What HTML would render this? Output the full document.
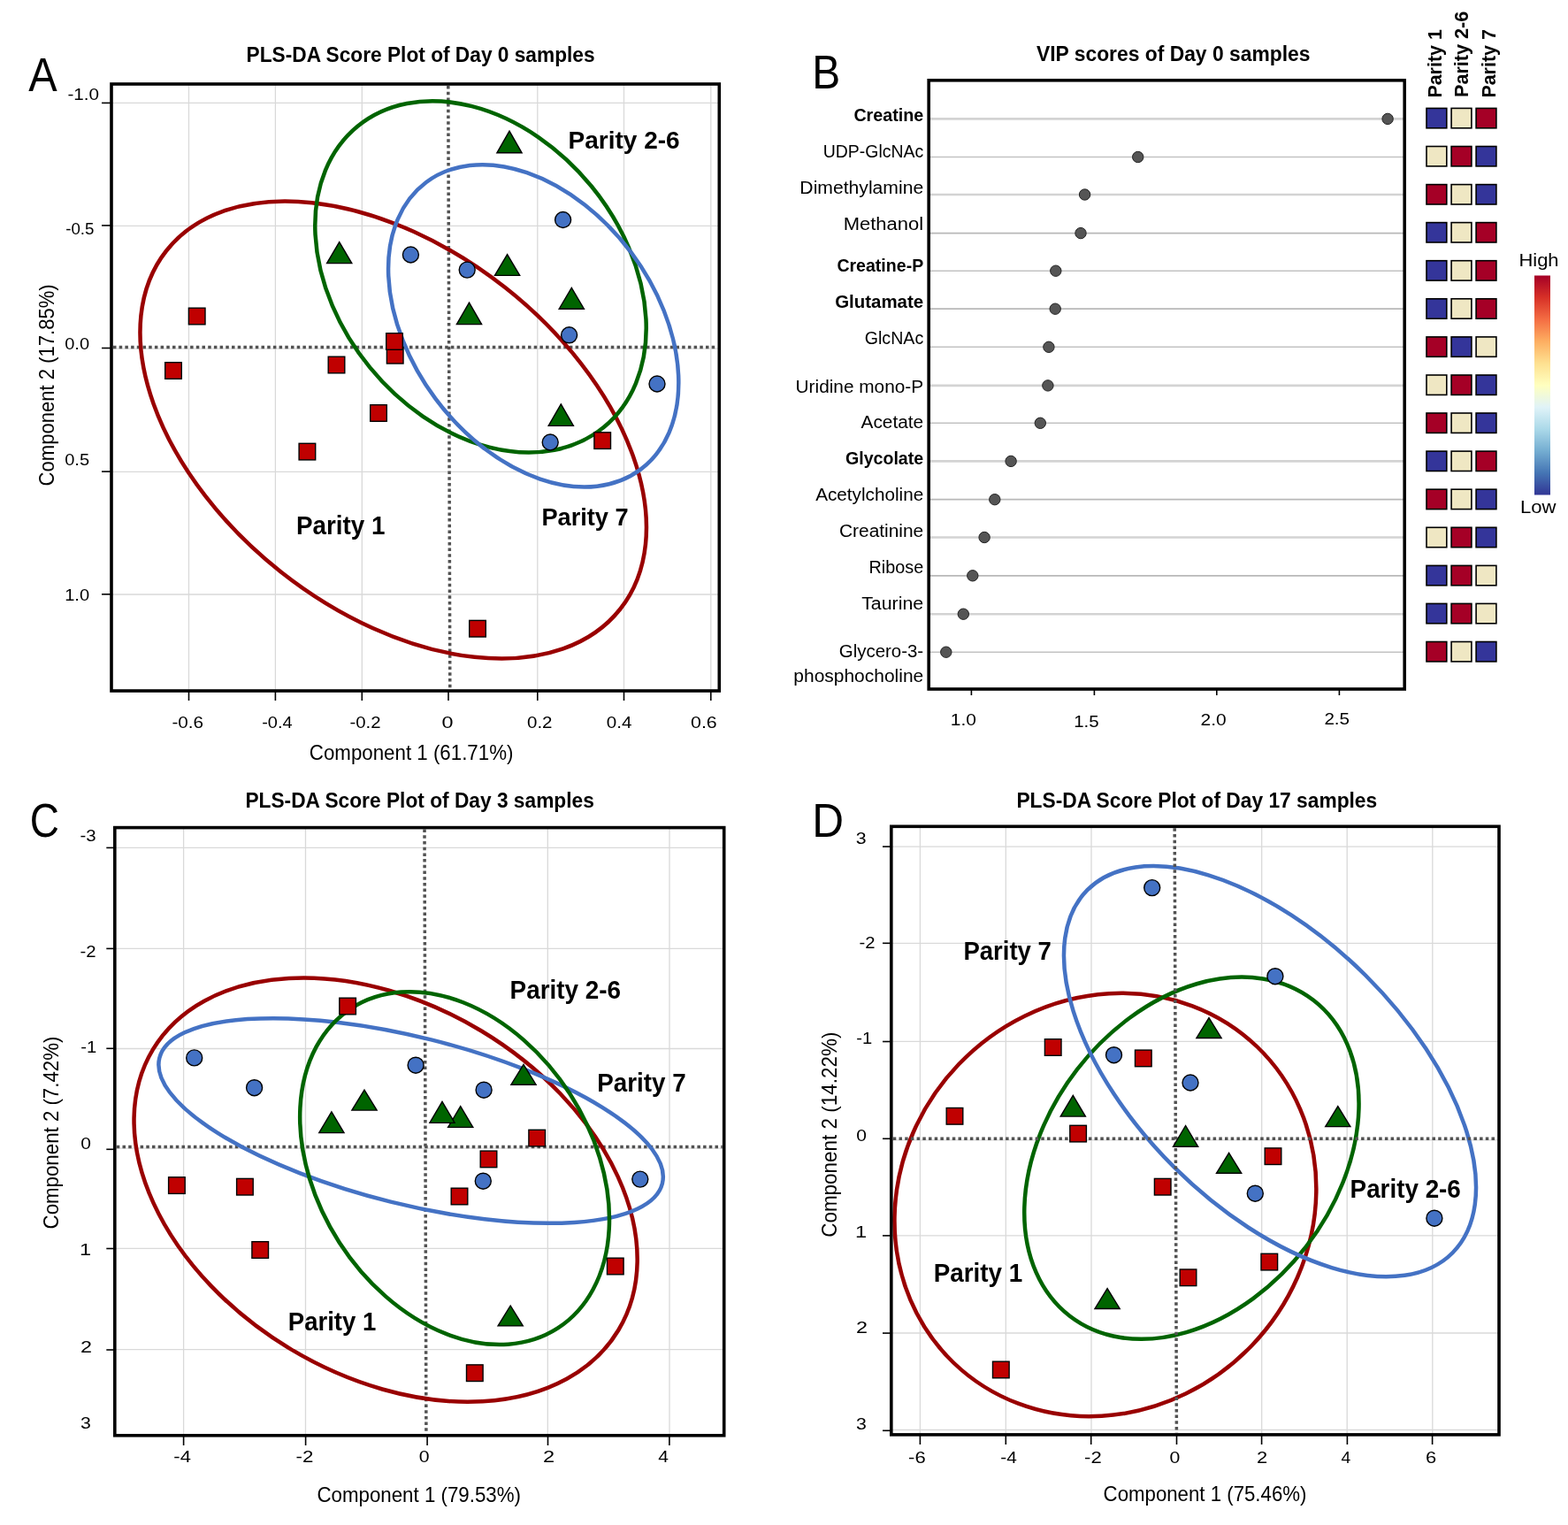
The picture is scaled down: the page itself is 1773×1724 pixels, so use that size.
<!DOCTYPE html>
<html><head><meta charset="utf-8"><title>PLS-DA figure</title>
<style>html,body{margin:0;padding:0;background:#fff;}svg{display:block;}
text{font-family:"Liberation Sans", Arial, sans-serif;fill:#000;}</style></head>
<body><svg width="1773" height="1724" viewBox="0 0 1773 1724">
<rect width="1773" height="1724" fill="#fff"/>
<line x1="213.5" y1="95.0" x2="213.5" y2="781.0" stroke="#d9d9d9" stroke-width="1.3" />
<line x1="311.4" y1="95.0" x2="311.4" y2="781.0" stroke="#d9d9d9" stroke-width="1.3" />
<line x1="409.3" y1="95.0" x2="409.3" y2="781.0" stroke="#d9d9d9" stroke-width="1.3" />
<line x1="607.8" y1="95.0" x2="607.8" y2="781.0" stroke="#d9d9d9" stroke-width="1.3" />
<line x1="705.5" y1="95.0" x2="705.5" y2="781.0" stroke="#d9d9d9" stroke-width="1.3" />
<line x1="803.8" y1="95.0" x2="803.8" y2="781.0" stroke="#d9d9d9" stroke-width="1.3" />
<line x1="126.0" y1="116.4" x2="813.3" y2="116.4" stroke="#d9d9d9" stroke-width="1.3" />
<line x1="126.0" y1="255.4" x2="813.3" y2="255.4" stroke="#d9d9d9" stroke-width="1.3" />
<line x1="126.0" y1="533.3" x2="813.3" y2="533.3" stroke="#d9d9d9" stroke-width="1.3" />
<line x1="126.0" y1="672.0" x2="813.3" y2="672.0" stroke="#d9d9d9" stroke-width="1.3" />
<line x1="126.0" y1="394.2" x2="813.3" y2="394.2" stroke="#d9d9d9" stroke-width="1.2" />
<line x1="506.8" y1="97.0" x2="508.8" y2="779.0" stroke="#525252" stroke-width="3.5" stroke-dasharray="3.5 3.2"/>
<line x1="128.0" y1="392.6" x2="811.3" y2="392.6" stroke="#525252" stroke-width="3.5" stroke-dasharray="3.5 3.2"/>
<ellipse cx="444.7" cy="486.0" rx="204.7" ry="326.9" transform="rotate(-51.72 444.7 486.0)" fill="none" stroke="#990000" stroke-width="4.5"/>
<ellipse cx="543.5" cy="312.9" rx="161.8" ry="219.8" transform="rotate(-39.28 543.5 312.9)" fill="none" stroke="#006400" stroke-width="4.5"/>
<ellipse cx="603.2" cy="368.3" rx="138.1" ry="202.6" transform="rotate(-36.75 603.2 368.3)" fill="none" stroke="#4472c4" stroke-width="4.5"/>
<rect x="213.40" y="348.20" width="18.6" height="18.6" fill="#c00000" stroke="#000" stroke-width="1.4"/>
<rect x="186.70" y="409.70" width="18.6" height="18.6" fill="#c00000" stroke="#000" stroke-width="1.4"/>
<rect x="371.20" y="403.20" width="18.6" height="18.6" fill="#c00000" stroke="#000" stroke-width="1.4"/>
<rect x="437.40" y="392.40" width="18.6" height="18.6" fill="#c00000" stroke="#000" stroke-width="1.4"/>
<rect x="436.70" y="376.70" width="18.6" height="18.6" fill="#c00000" stroke="#000" stroke-width="1.4"/>
<rect x="418.70" y="457.70" width="18.6" height="18.6" fill="#c00000" stroke="#000" stroke-width="1.4"/>
<rect x="338.10" y="501.30" width="18.6" height="18.6" fill="#c00000" stroke="#000" stroke-width="1.4"/>
<rect x="671.90" y="488.80" width="18.6" height="18.6" fill="#c00000" stroke="#000" stroke-width="1.4"/>
<rect x="530.70" y="701.40" width="18.6" height="18.6" fill="#c00000" stroke="#000" stroke-width="1.4"/>
<circle cx="464.40" cy="288.00" r="9.0" fill="#4472c4" stroke="#000" stroke-width="1.4"/>
<circle cx="528.20" cy="305.10" r="9.0" fill="#4472c4" stroke="#000" stroke-width="1.4"/>
<circle cx="636.60" cy="248.50" r="9.0" fill="#4472c4" stroke="#000" stroke-width="1.4"/>
<circle cx="643.60" cy="378.80" r="9.0" fill="#4472c4" stroke="#000" stroke-width="1.4"/>
<circle cx="743.00" cy="434.00" r="9.0" fill="#4472c4" stroke="#000" stroke-width="1.4"/>
<circle cx="622.20" cy="500.00" r="9.0" fill="#4472c4" stroke="#000" stroke-width="1.4"/>
<path d="M383.70,273.60 L397.80,297.60 L369.60,297.60 Z" fill="#006400" stroke="#000" stroke-width="1.4" stroke-linejoin="miter"/>
<path d="M576.00,148.20 L590.10,172.80 L561.90,172.80 Z" fill="#006400" stroke="#000" stroke-width="1.4" stroke-linejoin="miter"/>
<path d="M573.60,287.70 L587.70,311.40 L559.50,311.40 Z" fill="#006400" stroke="#000" stroke-width="1.4" stroke-linejoin="miter"/>
<path d="M646.30,325.40 L660.40,349.20 L632.20,349.20 Z" fill="#006400" stroke="#000" stroke-width="1.4" stroke-linejoin="miter"/>
<path d="M530.50,342.20 L544.60,366.60 L516.40,366.60 Z" fill="#006400" stroke="#000" stroke-width="1.4" stroke-linejoin="miter"/>
<path d="M634.30,456.80 L648.40,481.40 L620.20,481.40 Z" fill="#006400" stroke="#000" stroke-width="1.4" stroke-linejoin="miter"/>
<rect x="126" y="95" width="687.3" height="686" fill="none" stroke="#000" stroke-width="3.6"/>
<line x1="115.0" y1="116.4" x2="126.0" y2="116.4" stroke="#000" stroke-width="1.6" />
<line x1="115.0" y1="254.9" x2="126.0" y2="254.9" stroke="#000" stroke-width="1.6" />
<line x1="115.0" y1="393.5" x2="126.0" y2="393.5" stroke="#000" stroke-width="1.6" />
<line x1="115.0" y1="533.1" x2="126.0" y2="533.1" stroke="#000" stroke-width="1.6" />
<line x1="115.0" y1="671.8" x2="126.0" y2="671.8" stroke="#000" stroke-width="1.6" />
<line x1="213.5" y1="781.0" x2="213.5" y2="792.0" stroke="#000" stroke-width="1.6" />
<line x1="311.4" y1="781.0" x2="311.4" y2="792.0" stroke="#000" stroke-width="1.6" />
<line x1="409.3" y1="781.0" x2="409.3" y2="792.0" stroke="#000" stroke-width="1.6" />
<line x1="507.0" y1="781.0" x2="507.0" y2="792.0" stroke="#000" stroke-width="1.6" />
<line x1="607.8" y1="781.0" x2="607.8" y2="792.0" stroke="#000" stroke-width="1.6" />
<line x1="705.5" y1="781.0" x2="705.5" y2="792.0" stroke="#000" stroke-width="1.6" />
<line x1="803.8" y1="781.0" x2="803.8" y2="792.0" stroke="#000" stroke-width="1.6" />
<text x="76.40" y="112.60" font-size="18.90" textLength="35.70" lengthAdjust="spacingAndGlyphs">-1.0</text>
<text x="74.20" y="264.50" font-size="18.90" textLength="32.25" lengthAdjust="spacingAndGlyphs">-0.5</text>
<text x="73.20" y="395.40" font-size="18.90" textLength="27.88" lengthAdjust="spacingAndGlyphs">0.0</text>
<text x="73.20" y="526.40" font-size="18.90" textLength="27.88" lengthAdjust="spacingAndGlyphs">0.5</text>
<text x="73.20" y="678.90" font-size="18.90" textLength="27.97" lengthAdjust="spacingAndGlyphs">1.0</text>
<text x="194.40" y="823.40" font-size="18.90" textLength="35.67" lengthAdjust="spacingAndGlyphs">-0.6</text>
<text x="296.20" y="823.40" font-size="18.90" textLength="34.45" lengthAdjust="spacingAndGlyphs">-0.4</text>
<text x="395.40" y="823.40" font-size="18.90" textLength="35.08" lengthAdjust="spacingAndGlyphs">-0.2</text>
<text x="499.40" y="823.40" font-size="18.90" textLength="13.00" lengthAdjust="spacingAndGlyphs">0</text>
<text x="596.00" y="823.40" font-size="18.90" textLength="28.50" lengthAdjust="spacingAndGlyphs">0.2</text>
<text x="685.80" y="823.40" font-size="18.90" textLength="28.64" lengthAdjust="spacingAndGlyphs">0.4</text>
<text x="781.00" y="823.40" font-size="18.90" textLength="29.74" lengthAdjust="spacingAndGlyphs">0.6</text>
<text x="349.80" y="859.30" font-size="23.26" textLength="230.62" lengthAdjust="spacingAndGlyphs">Component 1 (61.71%)</text>
<text transform="translate(61.40,435.40) rotate(-90)" x="0" y="0" font-size="23.26" text-anchor="middle" textLength="228.02" lengthAdjust="spacingAndGlyphs">Component 2 (17.85%)</text>
<text x="278.60" y="69.80" font-size="24.56" font-weight="bold" textLength="394.01" lengthAdjust="spacingAndGlyphs">PLS-DA Score Plot of Day 0 samples</text>
<text x="32.20" y="102.80" font-size="53.49" textLength="32.40" lengthAdjust="spacingAndGlyphs">A</text>
<text x="642.60" y="168.00" font-size="28.34" font-weight="bold" textLength="126.06" lengthAdjust="spacingAndGlyphs">Parity 2-6</text>
<text x="335.00" y="603.60" font-size="28.78" font-weight="bold" textLength="100.48" lengthAdjust="spacingAndGlyphs">Parity 1</text>
<text x="612.40" y="594.30" font-size="27.91" font-weight="bold" textLength="98.25" lengthAdjust="spacingAndGlyphs">Parity 7</text>
<line x1="1050.2" y1="134.4" x2="1588.2" y2="134.4" stroke="#d3d3d3" stroke-width="2.6" />
<line x1="1050.2" y1="177.5" x2="1588.2" y2="177.5" stroke="#c2c2c2" stroke-width="1.5" />
<line x1="1050.2" y1="220.0" x2="1588.2" y2="220.0" stroke="#d3d3d3" stroke-width="2.6" />
<line x1="1050.2" y1="263.6" x2="1588.2" y2="263.6" stroke="#b8b8b8" stroke-width="1.8" />
<line x1="1050.2" y1="306.2" x2="1588.2" y2="306.2" stroke="#c2c2c2" stroke-width="1.5" />
<line x1="1050.2" y1="349.2" x2="1588.2" y2="349.2" stroke="#b8b8b8" stroke-width="1.8" />
<line x1="1050.2" y1="392.3" x2="1588.2" y2="392.3" stroke="#c2c2c2" stroke-width="1.5" />
<line x1="1050.2" y1="435.9" x2="1588.2" y2="435.9" stroke="#d3d3d3" stroke-width="2.6" />
<line x1="1050.2" y1="478.3" x2="1588.2" y2="478.3" stroke="#c2c2c2" stroke-width="1.5" />
<line x1="1050.2" y1="521.4" x2="1588.2" y2="521.4" stroke="#d3d3d3" stroke-width="2.6" />
<line x1="1050.2" y1="564.7" x2="1588.2" y2="564.7" stroke="#b8b8b8" stroke-width="1.8" />
<line x1="1050.2" y1="607.5" x2="1588.2" y2="607.5" stroke="#d3d3d3" stroke-width="2.6" />
<line x1="1050.2" y1="650.8" x2="1588.2" y2="650.8" stroke="#b8b8b8" stroke-width="1.8" />
<line x1="1050.2" y1="694.2" x2="1588.2" y2="694.2" stroke="#d3d3d3" stroke-width="2.6" />
<line x1="1050.2" y1="737.2" x2="1588.2" y2="737.2" stroke="#c2c2c2" stroke-width="1.5" />
<circle cx="1569.1" cy="134.4" r="6.2" fill="#555" stroke="#222" stroke-width="1"/>
<circle cx="1286.7" cy="177.5" r="6.2" fill="#555" stroke="#222" stroke-width="1"/>
<circle cx="1226.6" cy="220.0" r="6.2" fill="#555" stroke="#222" stroke-width="1"/>
<circle cx="1222.0" cy="263.6" r="6.2" fill="#555" stroke="#222" stroke-width="1"/>
<circle cx="1193.8" cy="306.2" r="6.2" fill="#555" stroke="#222" stroke-width="1"/>
<circle cx="1193.2" cy="349.2" r="6.2" fill="#555" stroke="#222" stroke-width="1"/>
<circle cx="1185.9" cy="392.3" r="6.2" fill="#555" stroke="#222" stroke-width="1"/>
<circle cx="1184.9" cy="435.9" r="6.2" fill="#555" stroke="#222" stroke-width="1"/>
<circle cx="1176.3" cy="478.3" r="6.2" fill="#555" stroke="#222" stroke-width="1"/>
<circle cx="1143.1" cy="521.4" r="6.2" fill="#555" stroke="#222" stroke-width="1"/>
<circle cx="1124.8" cy="564.7" r="6.2" fill="#555" stroke="#222" stroke-width="1"/>
<circle cx="1113.1" cy="607.5" r="6.2" fill="#555" stroke="#222" stroke-width="1"/>
<circle cx="1099.8" cy="650.8" r="6.2" fill="#555" stroke="#222" stroke-width="1"/>
<circle cx="1089.3" cy="694.2" r="6.2" fill="#555" stroke="#222" stroke-width="1"/>
<circle cx="1069.8" cy="737.2" r="6.2" fill="#555" stroke="#222" stroke-width="1"/>
<rect x="1050.2" y="90.8" width="538.0" height="688.2" fill="none" stroke="#000" stroke-width="3.6"/>
<line x1="1098.4" y1="779.0" x2="1098.4" y2="786.0" stroke="#000" stroke-width="1.6" />
<line x1="1237.4" y1="779.0" x2="1237.4" y2="786.0" stroke="#000" stroke-width="1.6" />
<line x1="1375.8" y1="779.0" x2="1375.8" y2="786.0" stroke="#000" stroke-width="1.6" />
<line x1="1514.4" y1="779.0" x2="1514.4" y2="786.0" stroke="#000" stroke-width="1.6" />
<text x="1044.20" y="137.00" font-size="20.35" font-weight="bold" text-anchor="end" textLength="78.81" lengthAdjust="spacingAndGlyphs">Creatine</text>
<text x="1044.20" y="178.30" font-size="20.35" text-anchor="end" textLength="113.44" lengthAdjust="spacingAndGlyphs">UDP-GlcNAc</text>
<text x="1044.20" y="218.70" font-size="20.35" text-anchor="end" textLength="139.84" lengthAdjust="spacingAndGlyphs">Dimethylamine</text>
<text x="1044.20" y="259.70" font-size="20.35" text-anchor="end" textLength="90.49" lengthAdjust="spacingAndGlyphs">Methanol</text>
<text x="1044.20" y="306.70" font-size="20.35" font-weight="bold" text-anchor="end" textLength="97.81" lengthAdjust="spacingAndGlyphs">Creatine-P</text>
<text x="1044.20" y="347.90" font-size="20.35" font-weight="bold" text-anchor="end" textLength="100.03" lengthAdjust="spacingAndGlyphs">Glutamate</text>
<text x="1044.20" y="388.90" font-size="20.35" text-anchor="end" textLength="66.45" lengthAdjust="spacingAndGlyphs">GlcNAc</text>
<text x="1044.20" y="443.70" font-size="20.35" text-anchor="end" textLength="144.64" lengthAdjust="spacingAndGlyphs">Uridine mono-P</text>
<text x="1044.20" y="484.00" font-size="20.35" text-anchor="end" textLength="70.64" lengthAdjust="spacingAndGlyphs">Acetate</text>
<text x="1044.20" y="525.30" font-size="20.35" font-weight="bold" text-anchor="end" textLength="88.23" lengthAdjust="spacingAndGlyphs">Glycolate</text>
<text x="1044.20" y="565.70" font-size="20.35" text-anchor="end" textLength="122.01" lengthAdjust="spacingAndGlyphs">Acetylcholine</text>
<text x="1044.20" y="607.00" font-size="20.35" text-anchor="end" textLength="95.23" lengthAdjust="spacingAndGlyphs">Creatinine</text>
<text x="1044.20" y="648.00" font-size="20.35" text-anchor="end" textLength="61.66" lengthAdjust="spacingAndGlyphs">Ribose</text>
<text x="1044.20" y="689.20" font-size="20.35" text-anchor="end" textLength="70.04" lengthAdjust="spacingAndGlyphs">Taurine</text>
<text x="1044.20" y="743.20" font-size="20.35" text-anchor="end" textLength="95.44" lengthAdjust="spacingAndGlyphs">Glycero-3-</text>
<text x="1044.20" y="770.60" font-size="20.35" text-anchor="end" textLength="146.84" lengthAdjust="spacingAndGlyphs">phosphocholine</text>
<text x="1074.80" y="820.00" font-size="18.90" textLength="29.10" lengthAdjust="spacingAndGlyphs">1.0</text>
<text x="1214.20" y="821.60" font-size="18.90" textLength="28.43" lengthAdjust="spacingAndGlyphs">1.5</text>
<text x="1357.60" y="820.00" font-size="18.90" textLength="29.10" lengthAdjust="spacingAndGlyphs">2.0</text>
<text x="1497.40" y="819.00" font-size="18.90" textLength="28.69" lengthAdjust="spacingAndGlyphs">2.5</text>
<text x="1172.00" y="68.80" font-size="24.13" font-weight="bold" textLength="309.41" lengthAdjust="spacingAndGlyphs">VIP scores of Day 0 samples</text>
<text x="918.20" y="100.00" font-size="53.20" textLength="31.96" lengthAdjust="spacingAndGlyphs">B</text>
<rect x="1613.0" y="122.4" width="22.8" height="22.4" fill="#34359a" stroke="#000" stroke-width="1.6"/>
<rect x="1641.1" y="122.4" width="22.8" height="22.4" fill="#efe7c3" stroke="#000" stroke-width="1.6"/>
<rect x="1669.1" y="122.4" width="22.8" height="22.4" fill="#a50026" stroke="#000" stroke-width="1.6"/>
<rect x="1613.0" y="165.5" width="22.8" height="22.4" fill="#efe7c3" stroke="#000" stroke-width="1.6"/>
<rect x="1641.1" y="165.5" width="22.8" height="22.4" fill="#a50026" stroke="#000" stroke-width="1.6"/>
<rect x="1669.1" y="165.5" width="22.8" height="22.4" fill="#34359a" stroke="#000" stroke-width="1.6"/>
<rect x="1613.0" y="208.6" width="22.8" height="22.4" fill="#a50026" stroke="#000" stroke-width="1.6"/>
<rect x="1641.1" y="208.6" width="22.8" height="22.4" fill="#efe7c3" stroke="#000" stroke-width="1.6"/>
<rect x="1669.1" y="208.6" width="22.8" height="22.4" fill="#34359a" stroke="#000" stroke-width="1.6"/>
<rect x="1613.0" y="251.6" width="22.8" height="22.4" fill="#34359a" stroke="#000" stroke-width="1.6"/>
<rect x="1641.1" y="251.6" width="22.8" height="22.4" fill="#efe7c3" stroke="#000" stroke-width="1.6"/>
<rect x="1669.1" y="251.6" width="22.8" height="22.4" fill="#a50026" stroke="#000" stroke-width="1.6"/>
<rect x="1613.0" y="294.7" width="22.8" height="22.4" fill="#34359a" stroke="#000" stroke-width="1.6"/>
<rect x="1641.1" y="294.7" width="22.8" height="22.4" fill="#efe7c3" stroke="#000" stroke-width="1.6"/>
<rect x="1669.1" y="294.7" width="22.8" height="22.4" fill="#a50026" stroke="#000" stroke-width="1.6"/>
<rect x="1613.0" y="337.8" width="22.8" height="22.4" fill="#34359a" stroke="#000" stroke-width="1.6"/>
<rect x="1641.1" y="337.8" width="22.8" height="22.4" fill="#efe7c3" stroke="#000" stroke-width="1.6"/>
<rect x="1669.1" y="337.8" width="22.8" height="22.4" fill="#a50026" stroke="#000" stroke-width="1.6"/>
<rect x="1613.0" y="380.9" width="22.8" height="22.4" fill="#a50026" stroke="#000" stroke-width="1.6"/>
<rect x="1641.1" y="380.9" width="22.8" height="22.4" fill="#34359a" stroke="#000" stroke-width="1.6"/>
<rect x="1669.1" y="380.9" width="22.8" height="22.4" fill="#efe7c3" stroke="#000" stroke-width="1.6"/>
<rect x="1613.0" y="424.0" width="22.8" height="22.4" fill="#efe7c3" stroke="#000" stroke-width="1.6"/>
<rect x="1641.1" y="424.0" width="22.8" height="22.4" fill="#a50026" stroke="#000" stroke-width="1.6"/>
<rect x="1669.1" y="424.0" width="22.8" height="22.4" fill="#34359a" stroke="#000" stroke-width="1.6"/>
<rect x="1613.0" y="467.0" width="22.8" height="22.4" fill="#a50026" stroke="#000" stroke-width="1.6"/>
<rect x="1641.1" y="467.0" width="22.8" height="22.4" fill="#efe7c3" stroke="#000" stroke-width="1.6"/>
<rect x="1669.1" y="467.0" width="22.8" height="22.4" fill="#34359a" stroke="#000" stroke-width="1.6"/>
<rect x="1613.0" y="510.1" width="22.8" height="22.4" fill="#34359a" stroke="#000" stroke-width="1.6"/>
<rect x="1641.1" y="510.1" width="22.8" height="22.4" fill="#efe7c3" stroke="#000" stroke-width="1.6"/>
<rect x="1669.1" y="510.1" width="22.8" height="22.4" fill="#a50026" stroke="#000" stroke-width="1.6"/>
<rect x="1613.0" y="553.2" width="22.8" height="22.4" fill="#a50026" stroke="#000" stroke-width="1.6"/>
<rect x="1641.1" y="553.2" width="22.8" height="22.4" fill="#efe7c3" stroke="#000" stroke-width="1.6"/>
<rect x="1669.1" y="553.2" width="22.8" height="22.4" fill="#34359a" stroke="#000" stroke-width="1.6"/>
<rect x="1613.0" y="596.3" width="22.8" height="22.4" fill="#efe7c3" stroke="#000" stroke-width="1.6"/>
<rect x="1641.1" y="596.3" width="22.8" height="22.4" fill="#a50026" stroke="#000" stroke-width="1.6"/>
<rect x="1669.1" y="596.3" width="22.8" height="22.4" fill="#34359a" stroke="#000" stroke-width="1.6"/>
<rect x="1613.0" y="639.4" width="22.8" height="22.4" fill="#34359a" stroke="#000" stroke-width="1.6"/>
<rect x="1641.1" y="639.4" width="22.8" height="22.4" fill="#a50026" stroke="#000" stroke-width="1.6"/>
<rect x="1669.1" y="639.4" width="22.8" height="22.4" fill="#efe7c3" stroke="#000" stroke-width="1.6"/>
<rect x="1613.0" y="682.4" width="22.8" height="22.4" fill="#34359a" stroke="#000" stroke-width="1.6"/>
<rect x="1641.1" y="682.4" width="22.8" height="22.4" fill="#a50026" stroke="#000" stroke-width="1.6"/>
<rect x="1669.1" y="682.4" width="22.8" height="22.4" fill="#efe7c3" stroke="#000" stroke-width="1.6"/>
<rect x="1613.0" y="725.5" width="22.8" height="22.4" fill="#a50026" stroke="#000" stroke-width="1.6"/>
<rect x="1641.1" y="725.5" width="22.8" height="22.4" fill="#efe7c3" stroke="#000" stroke-width="1.6"/>
<rect x="1669.1" y="725.5" width="22.8" height="22.4" fill="#34359a" stroke="#000" stroke-width="1.6"/>
<text transform="translate(1630.30,110.60) rotate(-90)" x="0" y="0" font-size="22.09" font-weight="bold" textLength="77.45" lengthAdjust="spacingAndGlyphs">Parity 1</text>
<text transform="translate(1660.20,110.00) rotate(-90)" x="0" y="0" font-size="22.09" font-weight="bold" textLength="97.23" lengthAdjust="spacingAndGlyphs">Parity 2-6</text>
<text transform="translate(1690.50,110.60) rotate(-90)" x="0" y="0" font-size="22.09" font-weight="bold" textLength="77.45" lengthAdjust="spacingAndGlyphs">Parity 7</text>
<defs><linearGradient id="cb" x1="0" y1="0" x2="0" y2="1"><stop offset="0.00" stop-color="#a50026"/><stop offset="0.10" stop-color="#d73027"/><stop offset="0.20" stop-color="#f46d43"/><stop offset="0.30" stop-color="#fdae61"/><stop offset="0.40" stop-color="#fee090"/><stop offset="0.50" stop-color="#ffffbf"/><stop offset="0.60" stop-color="#e0f3f8"/><stop offset="0.70" stop-color="#abd9e9"/><stop offset="0.80" stop-color="#74add1"/><stop offset="0.90" stop-color="#4575b4"/><stop offset="1.00" stop-color="#313695"/></linearGradient></defs>
<rect x="1735" y="311.5" width="18" height="248" fill="url(#cb)"/>
<text x="1717.40" y="300.70" font-size="20.35" textLength="45.17" lengthAdjust="spacingAndGlyphs">High</text>
<text x="1719.00" y="579.60" font-size="20.35" textLength="40.49" lengthAdjust="spacingAndGlyphs">Low</text>
<line x1="207.6" y1="935.6" x2="207.6" y2="1622.8" stroke="#d9d9d9" stroke-width="1.3" />
<line x1="345.5" y1="935.6" x2="345.5" y2="1622.8" stroke="#d9d9d9" stroke-width="1.3" />
<line x1="619.3" y1="935.6" x2="619.3" y2="1622.8" stroke="#d9d9d9" stroke-width="1.3" />
<line x1="757.0" y1="935.6" x2="757.0" y2="1622.8" stroke="#d9d9d9" stroke-width="1.3" />
<line x1="129.8" y1="958.4" x2="818.7" y2="958.4" stroke="#d9d9d9" stroke-width="1.3" />
<line x1="129.8" y1="1072.4" x2="818.7" y2="1072.4" stroke="#d9d9d9" stroke-width="1.3" />
<line x1="129.8" y1="1185.5" x2="818.7" y2="1185.5" stroke="#d9d9d9" stroke-width="1.3" />
<line x1="129.8" y1="1411.4" x2="818.7" y2="1411.4" stroke="#d9d9d9" stroke-width="1.3" />
<line x1="129.8" y1="1525.6" x2="818.7" y2="1525.6" stroke="#d9d9d9" stroke-width="1.3" />
<line x1="129.8" y1="1298.2" x2="818.7" y2="1298.2" stroke="#d9d9d9" stroke-width="1.2" />
<line x1="480.0" y1="937.6" x2="481.9" y2="1620.8" stroke="#525252" stroke-width="3.5" stroke-dasharray="3.5 3.2"/>
<line x1="131.8" y1="1296.6" x2="816.7" y2="1296.6" stroke="#525252" stroke-width="3.5" stroke-dasharray="3.5 3.2"/>
<ellipse cx="436.1" cy="1345.1" rx="307.3" ry="209.7" transform="rotate(-148.91 436.1 1345.1)" fill="none" stroke="#990000" stroke-width="4.5"/>
<ellipse cx="464.6" cy="1267.0" rx="293.0" ry="94.4" transform="rotate(-165.99 464.6 1267.0)" fill="none" stroke="#4472c4" stroke-width="4.5"/>
<ellipse cx="514.1" cy="1320.6" rx="155.1" ry="215.2" transform="rotate(-32.83 514.1 1320.6)" fill="none" stroke="#006400" stroke-width="4.5"/>
<rect x="383.80" y="1128.20" width="18.6" height="18.6" fill="#c00000" stroke="#000" stroke-width="1.4"/>
<rect x="597.90" y="1277.30" width="18.6" height="18.6" fill="#c00000" stroke="#000" stroke-width="1.4"/>
<rect x="543.20" y="1301.10" width="18.6" height="18.6" fill="#c00000" stroke="#000" stroke-width="1.4"/>
<rect x="510.20" y="1343.20" width="18.6" height="18.6" fill="#c00000" stroke="#000" stroke-width="1.4"/>
<rect x="190.60" y="1330.80" width="18.6" height="18.6" fill="#c00000" stroke="#000" stroke-width="1.4"/>
<rect x="267.60" y="1332.40" width="18.6" height="18.6" fill="#c00000" stroke="#000" stroke-width="1.4"/>
<rect x="284.90" y="1403.70" width="18.6" height="18.6" fill="#c00000" stroke="#000" stroke-width="1.4"/>
<rect x="686.50" y="1422.20" width="18.6" height="18.6" fill="#c00000" stroke="#000" stroke-width="1.4"/>
<rect x="527.50" y="1542.90" width="18.6" height="18.6" fill="#c00000" stroke="#000" stroke-width="1.4"/>
<circle cx="219.70" cy="1195.90" r="9.0" fill="#4472c4" stroke="#000" stroke-width="1.4"/>
<circle cx="287.60" cy="1229.70" r="9.0" fill="#4472c4" stroke="#000" stroke-width="1.4"/>
<circle cx="470.10" cy="1204.20" r="9.0" fill="#4472c4" stroke="#000" stroke-width="1.4"/>
<circle cx="547.10" cy="1232.20" r="9.0" fill="#4472c4" stroke="#000" stroke-width="1.4"/>
<circle cx="546.30" cy="1335.20" r="9.0" fill="#4472c4" stroke="#000" stroke-width="1.4"/>
<circle cx="723.80" cy="1333.10" r="9.0" fill="#4472c4" stroke="#000" stroke-width="1.4"/>
<path d="M592.00,1203.30 L606.10,1226.20 L577.90,1226.20 Z" fill="#006400" stroke="#000" stroke-width="1.4" stroke-linejoin="miter"/>
<path d="M412.00,1232.20 L426.10,1255.10 L397.90,1255.10 Z" fill="#006400" stroke="#000" stroke-width="1.4" stroke-linejoin="miter"/>
<path d="M374.90,1256.90 L389.00,1280.60 L360.80,1280.60 Z" fill="#006400" stroke="#000" stroke-width="1.4" stroke-linejoin="miter"/>
<path d="M520.70,1250.70 L534.80,1274.40 L506.60,1274.40 Z" fill="#006400" stroke="#000" stroke-width="1.4" stroke-linejoin="miter"/>
<path d="M500.00,1245.30 L514.10,1269.40 L485.90,1269.40 Z" fill="#006400" stroke="#000" stroke-width="1.4" stroke-linejoin="miter"/>
<path d="M577.20,1476.00 L591.30,1498.90 L563.10,1498.90 Z" fill="#006400" stroke="#000" stroke-width="1.4" stroke-linejoin="miter"/>
<rect x="129.8" y="935.6" width="688.9000000000001" height="687.1999999999999" fill="none" stroke="#000" stroke-width="3.6"/>
<line x1="120.3" y1="958.4" x2="129.8" y2="958.4" stroke="#000" stroke-width="1.6" />
<line x1="120.3" y1="1072.4" x2="129.8" y2="1072.4" stroke="#000" stroke-width="1.6" />
<line x1="120.3" y1="1185.3" x2="129.8" y2="1185.3" stroke="#000" stroke-width="1.6" />
<line x1="120.3" y1="1299.3" x2="129.8" y2="1299.3" stroke="#000" stroke-width="1.6" />
<line x1="120.3" y1="1411.5" x2="129.8" y2="1411.5" stroke="#000" stroke-width="1.6" />
<line x1="120.3" y1="1526.0" x2="129.8" y2="1526.0" stroke="#000" stroke-width="1.6" />
<line x1="207.6" y1="1622.8" x2="207.6" y2="1634.0" stroke="#000" stroke-width="1.6" />
<line x1="345.6" y1="1622.8" x2="345.6" y2="1634.0" stroke="#000" stroke-width="1.6" />
<line x1="483.1" y1="1622.8" x2="483.1" y2="1634.0" stroke="#000" stroke-width="1.6" />
<line x1="619.5" y1="1622.8" x2="619.5" y2="1634.0" stroke="#000" stroke-width="1.6" />
<line x1="756.9" y1="1622.8" x2="756.9" y2="1634.0" stroke="#000" stroke-width="1.6" />
<text x="90.60" y="950.70" font-size="18.90" textLength="18.09" lengthAdjust="spacingAndGlyphs">-3</text>
<text x="90.60" y="1081.60" font-size="18.90" textLength="18.09" lengthAdjust="spacingAndGlyphs">-2</text>
<text x="91.20" y="1190.00" font-size="18.90" textLength="17.94" lengthAdjust="spacingAndGlyphs">-1</text>
<text x="91.20" y="1298.60" font-size="18.90" textLength="11.70" lengthAdjust="spacingAndGlyphs">0</text>
<text x="90.00" y="1419.10" font-size="18.90" textLength="13.13" lengthAdjust="spacingAndGlyphs">1</text>
<text x="91.00" y="1528.70" font-size="18.90" textLength="13.00" lengthAdjust="spacingAndGlyphs">2</text>
<text x="91.00" y="1614.60" font-size="18.90" textLength="11.82" lengthAdjust="spacingAndGlyphs">3</text>
<text x="206.10" y="1653.30" font-size="18.90" text-anchor="middle" textLength="19.53" lengthAdjust="spacingAndGlyphs">-4</text>
<text x="344.50" y="1653.30" font-size="18.90" text-anchor="middle" textLength="19.80" lengthAdjust="spacingAndGlyphs">-2</text>
<text x="479.80" y="1653.30" font-size="18.90" text-anchor="middle" textLength="11.82" lengthAdjust="spacingAndGlyphs">0</text>
<text x="620.50" y="1653.30" font-size="18.90" text-anchor="middle" textLength="13.13" lengthAdjust="spacingAndGlyphs">2</text>
<text x="750.00" y="1653.30" font-size="18.90" text-anchor="middle" textLength="11.70" lengthAdjust="spacingAndGlyphs">4</text>
<text x="358.40" y="1697.50" font-size="23.26" textLength="230.62" lengthAdjust="spacingAndGlyphs">Component 1 (79.53%)</text>
<text transform="translate(66.20,1280.50) rotate(-90)" x="0" y="0" font-size="23.26" text-anchor="middle" textLength="217.83" lengthAdjust="spacingAndGlyphs">Component 2 (7.42%)</text>
<text x="277.40" y="912.80" font-size="24.56" font-weight="bold" textLength="394.42" lengthAdjust="spacingAndGlyphs">PLS-DA Score Plot of Day 3 samples</text>
<text x="33.80" y="945.70" font-size="53.34" textLength="33.19" lengthAdjust="spacingAndGlyphs">C</text>
<text x="576.60" y="1129.20" font-size="28.63" font-weight="bold" textLength="125.44" lengthAdjust="spacingAndGlyphs">Parity 2-6</text>
<text x="675.20" y="1233.80" font-size="28.63" font-weight="bold" textLength="100.45" lengthAdjust="spacingAndGlyphs">Parity 7</text>
<text x="325.80" y="1504.00" font-size="28.63" font-weight="bold" textLength="99.45" lengthAdjust="spacingAndGlyphs">Parity 1</text>
<line x1="1040.4" y1="934.3" x2="1040.4" y2="1621.9" stroke="#d9d9d9" stroke-width="1.3" />
<line x1="1137.3" y1="934.3" x2="1137.3" y2="1621.9" stroke="#d9d9d9" stroke-width="1.3" />
<line x1="1234.0" y1="934.3" x2="1234.0" y2="1621.9" stroke="#d9d9d9" stroke-width="1.3" />
<line x1="1426.7" y1="934.3" x2="1426.7" y2="1621.9" stroke="#d9d9d9" stroke-width="1.3" />
<line x1="1523.2" y1="934.3" x2="1523.2" y2="1621.9" stroke="#d9d9d9" stroke-width="1.3" />
<line x1="1619.8" y1="934.3" x2="1619.8" y2="1621.9" stroke="#d9d9d9" stroke-width="1.3" />
<line x1="1007.8" y1="957.1" x2="1695.0" y2="957.1" stroke="#d9d9d9" stroke-width="1.3" />
<line x1="1007.8" y1="1066.3" x2="1695.0" y2="1066.3" stroke="#d9d9d9" stroke-width="1.3" />
<line x1="1007.8" y1="1177.3" x2="1695.0" y2="1177.3" stroke="#d9d9d9" stroke-width="1.3" />
<line x1="1007.8" y1="1396.9" x2="1695.0" y2="1396.9" stroke="#d9d9d9" stroke-width="1.3" />
<line x1="1007.8" y1="1507.0" x2="1695.0" y2="1507.0" stroke="#d9d9d9" stroke-width="1.3" />
<line x1="1007.8" y1="1616.5" x2="1695.0" y2="1616.5" stroke="#d9d9d9" stroke-width="1.3" />
<line x1="1007.8" y1="1288.8" x2="1695.0" y2="1288.8" stroke="#d9d9d9" stroke-width="1.2" />
<ellipse cx="1249.9" cy="1362.0" rx="229.6" ry="247.7" transform="rotate(-136.19 1249.9 1362.0)" fill="none" stroke="#990000" stroke-width="4.5"/>
<ellipse cx="1347.4" cy="1309.2" rx="163.7" ry="225.5" transform="rotate(-142.33 1347.4 1309.2)" fill="none" stroke="#006400" stroke-width="4.5"/>
<ellipse cx="1436.0" cy="1211.2" rx="153.2" ry="291.0" transform="rotate(-45.21 1436.0 1211.2)" fill="none" stroke="#4472c4" stroke-width="4.5"/>
<line x1="1328.2" y1="936.3" x2="1330.4" y2="1619.9" stroke="#525252" stroke-width="3.5" stroke-dasharray="3.5 3.2"/>
<line x1="1009.8" y1="1287.2" x2="1693.0" y2="1287.2" stroke="#525252" stroke-width="3.5" stroke-dasharray="3.5 3.2"/>
<rect x="1181.40" y="1174.70" width="18.6" height="18.6" fill="#c00000" stroke="#000" stroke-width="1.4"/>
<rect x="1283.50" y="1187.10" width="18.6" height="18.6" fill="#c00000" stroke="#000" stroke-width="1.4"/>
<rect x="1070.20" y="1252.50" width="18.6" height="18.6" fill="#c00000" stroke="#000" stroke-width="1.4"/>
<rect x="1209.80" y="1272.30" width="18.6" height="18.6" fill="#c00000" stroke="#000" stroke-width="1.4"/>
<rect x="1430.20" y="1297.90" width="18.6" height="18.6" fill="#c00000" stroke="#000" stroke-width="1.4"/>
<rect x="1305.40" y="1332.40" width="18.6" height="18.6" fill="#c00000" stroke="#000" stroke-width="1.4"/>
<rect x="1426.00" y="1417.30" width="18.6" height="18.6" fill="#c00000" stroke="#000" stroke-width="1.4"/>
<rect x="1334.20" y="1435.00" width="18.6" height="18.6" fill="#c00000" stroke="#000" stroke-width="1.4"/>
<rect x="1122.50" y="1539.20" width="18.6" height="18.6" fill="#c00000" stroke="#000" stroke-width="1.4"/>
<circle cx="1302.70" cy="1003.60" r="9.0" fill="#4472c4" stroke="#000" stroke-width="1.4"/>
<circle cx="1441.90" cy="1103.70" r="9.0" fill="#4472c4" stroke="#000" stroke-width="1.4"/>
<circle cx="1259.50" cy="1192.70" r="9.0" fill="#4472c4" stroke="#000" stroke-width="1.4"/>
<circle cx="1346.00" cy="1224.00" r="9.0" fill="#4472c4" stroke="#000" stroke-width="1.4"/>
<circle cx="1419.30" cy="1349.20" r="9.0" fill="#4472c4" stroke="#000" stroke-width="1.4"/>
<circle cx="1621.90" cy="1377.20" r="9.0" fill="#4472c4" stroke="#000" stroke-width="1.4"/>
<path d="M1367.00,1150.60 L1381.10,1173.50 L1352.90,1173.50 Z" fill="#006400" stroke="#000" stroke-width="1.4" stroke-linejoin="miter"/>
<path d="M1213.30,1238.30 L1227.40,1262.10 L1199.20,1262.10 Z" fill="#006400" stroke="#000" stroke-width="1.4" stroke-linejoin="miter"/>
<path d="M1340.60,1272.50 L1354.70,1296.30 L1326.50,1296.30 Z" fill="#006400" stroke="#000" stroke-width="1.4" stroke-linejoin="miter"/>
<path d="M1512.80,1250.70 L1526.90,1273.60 L1498.70,1273.60 Z" fill="#006400" stroke="#000" stroke-width="1.4" stroke-linejoin="miter"/>
<path d="M1389.60,1303.40 L1403.70,1326.30 L1375.50,1326.30 Z" fill="#006400" stroke="#000" stroke-width="1.4" stroke-linejoin="miter"/>
<path d="M1252.10,1456.60 L1266.20,1479.50 L1238.00,1479.50 Z" fill="#006400" stroke="#000" stroke-width="1.4" stroke-linejoin="miter"/>
<rect x="1007.8" y="934.3" width="687.2" height="687.6000000000001" fill="none" stroke="#000" stroke-width="3.6"/>
<line x1="998.0" y1="957.1" x2="1007.8" y2="957.1" stroke="#000" stroke-width="1.6" />
<line x1="998.0" y1="1066.3" x2="1007.8" y2="1066.3" stroke="#000" stroke-width="1.6" />
<line x1="998.0" y1="1177.5" x2="1007.8" y2="1177.5" stroke="#000" stroke-width="1.6" />
<line x1="998.0" y1="1287.3" x2="1007.8" y2="1287.3" stroke="#000" stroke-width="1.6" />
<line x1="998.0" y1="1396.9" x2="1007.8" y2="1396.9" stroke="#000" stroke-width="1.6" />
<line x1="998.0" y1="1507.1" x2="1007.8" y2="1507.1" stroke="#000" stroke-width="1.6" />
<line x1="998.0" y1="1617.3" x2="1007.8" y2="1617.3" stroke="#000" stroke-width="1.6" />
<line x1="1040.4" y1="1621.9" x2="1040.4" y2="1633.0" stroke="#000" stroke-width="1.6" />
<line x1="1137.3" y1="1621.9" x2="1137.3" y2="1633.0" stroke="#000" stroke-width="1.6" />
<line x1="1233.7" y1="1621.9" x2="1233.7" y2="1633.0" stroke="#000" stroke-width="1.6" />
<line x1="1330.5" y1="1621.9" x2="1330.5" y2="1633.0" stroke="#000" stroke-width="1.6" />
<line x1="1426.6" y1="1621.9" x2="1426.6" y2="1633.0" stroke="#000" stroke-width="1.6" />
<line x1="1523.4" y1="1621.9" x2="1523.4" y2="1633.0" stroke="#000" stroke-width="1.6" />
<line x1="1619.6" y1="1621.9" x2="1619.6" y2="1633.0" stroke="#000" stroke-width="1.6" />
<text x="967.80" y="953.50" font-size="18.90" textLength="11.82" lengthAdjust="spacingAndGlyphs">3</text>
<text x="971.60" y="1071.80" font-size="18.90" textLength="18.01" lengthAdjust="spacingAndGlyphs">-2</text>
<text x="968.20" y="1180.40" font-size="18.90" textLength="17.94" lengthAdjust="spacingAndGlyphs">-1</text>
<text x="968.20" y="1290.40" font-size="18.90" textLength="11.70" lengthAdjust="spacingAndGlyphs">0</text>
<text x="967.00" y="1398.80" font-size="18.90" textLength="13.13" lengthAdjust="spacingAndGlyphs">1</text>
<text x="968.00" y="1507.10" font-size="18.90" textLength="13.00" lengthAdjust="spacingAndGlyphs">2</text>
<text x="968.00" y="1616.20" font-size="18.90" textLength="11.82" lengthAdjust="spacingAndGlyphs">3</text>
<text x="1036.90" y="1654.00" font-size="18.90" text-anchor="middle" textLength="19.60" lengthAdjust="spacingAndGlyphs">-6</text>
<text x="1140.60" y="1654.00" font-size="18.90" text-anchor="middle" textLength="18.51" lengthAdjust="spacingAndGlyphs">-4</text>
<text x="1235.90" y="1654.00" font-size="18.90" text-anchor="middle" textLength="19.60" lengthAdjust="spacingAndGlyphs">-2</text>
<text x="1328.40" y="1654.00" font-size="18.90" text-anchor="middle" textLength="11.82" lengthAdjust="spacingAndGlyphs">0</text>
<text x="1427.00" y="1654.00" font-size="18.90" text-anchor="middle" textLength="12.19" lengthAdjust="spacingAndGlyphs">2</text>
<text x="1521.90" y="1654.00" font-size="18.90" text-anchor="middle" textLength="10.74" lengthAdjust="spacingAndGlyphs">4</text>
<text x="1618.00" y="1654.00" font-size="18.90" text-anchor="middle" textLength="12.19" lengthAdjust="spacingAndGlyphs">6</text>
<text x="1247.60" y="1697.00" font-size="23.26" textLength="229.83" lengthAdjust="spacingAndGlyphs">Component 1 (75.46%)</text>
<text transform="translate(946.20,1282.70) rotate(-90)" x="0" y="0" font-size="23.26" text-anchor="middle" textLength="232.23" lengthAdjust="spacingAndGlyphs">Component 2 (14.22%)</text>
<text x="1149.40" y="912.80" font-size="24.56" font-weight="bold" textLength="407.81" lengthAdjust="spacingAndGlyphs">PLS-DA Score Plot of Day 17 samples</text>
<text x="918.20" y="945.70" font-size="53.34" textLength="35.81" lengthAdjust="spacingAndGlyphs">D</text>
<text x="1089.40" y="1084.70" font-size="28.63" font-weight="bold" textLength="99.46" lengthAdjust="spacingAndGlyphs">Parity 7</text>
<text x="1526.60" y="1353.70" font-size="28.63" font-weight="bold" textLength="125.26" lengthAdjust="spacingAndGlyphs">Parity 2-6</text>
<text x="1055.80" y="1449.20" font-size="28.63" font-weight="bold" textLength="100.46" lengthAdjust="spacingAndGlyphs">Parity 1</text>
</svg></body></html>
